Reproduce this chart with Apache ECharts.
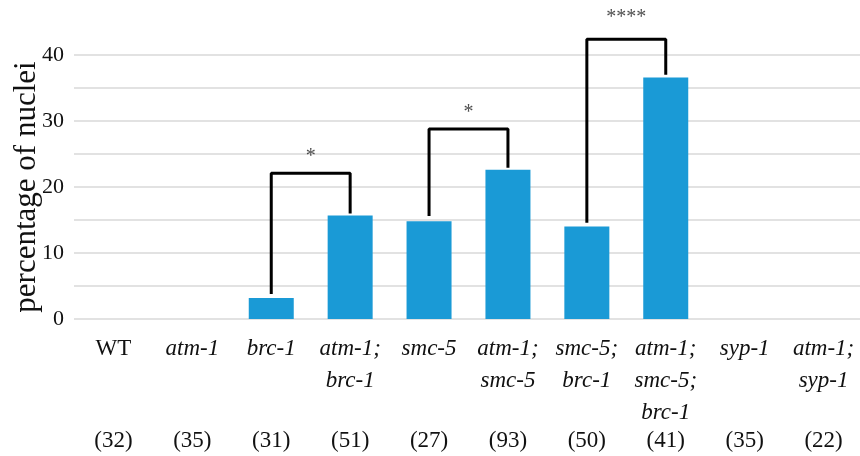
<!DOCTYPE html>
<html>
<head>
<meta charset="utf-8">
<script src="https://cdn.jsdelivr.net/npm/echarts@6/dist/echarts.min.js"></script>
<style>html,body{margin:0;padding:0;background:#fff}#c{width:860px;height:456px}</style>
</head>
<body>
<div id="c"></div>
<script>
// categories (italic gene names except WT)
const categories = ['WT', 'atm-1', 'brc-1', 'atm-1;\nbrc-1', 'smc-5', 'atm-1;\nsmc-5', 'smc-5;\nbrc-1', 'atm-1;\nsmc-5;\nbrc-1', 'syp-1', 'atm-1;\nsyp-1'];
const counts = ['(32)', '(35)', '(31)', '(51)', '(27)', '(93)', '(50)', '(41)', '(35)', '(22)'];
const values = [0, 0, 3.2, 15.7, 14.8, 22.6, 14.0, 36.6, 0, 0];
const yTicks = [0, 10, 20, 30, 40];
// significance brackets: [x, y] in category-index units
const bracket1 = [[2, 3.8], [2, 22.1], [3, 22.1], [3, 16.0]];
const bracket2 = [[4, 15.6], [4, 28.8], [5, 28.8], [5, 22.9]];
const bracket3 = [[6, 14.6], [6, 42.4], [7, 42.4], [7, 37.0]];
const stars = [[2.5, 24.6, '*'], [4.5, 31.2, '*'], [6.5, 45.6, '****']];

const FONT = "'Liberation Serif', 'Times New Roman', serif";
const chart = echarts.init(document.getElementById('c'));

function bracketSeries(d) {
  return {
    type: 'line', xAxisIndex: 2, data: d, symbol: 'none', clip: false,
    lineStyle: { color: '#000', width: 3 }, silent: true, z: 5, animation: false
  };
}

chart.setOption({
  animation: false,
  grid: { left: 74, right: -3, top: 55, bottom: 137, containLabel: false, outerBoundsMode: 'none' },
  xAxis: [
    {
      type: 'category', data: categories,
      axisLine: { show: false }, axisTick: { show: false },
      axisLabel: {
        interval: 0, margin: 14,
        fontFamily: FONT, fontSize: 23, color: '#111',
        formatter: function (v) {
          const tag = v === 'WT' ? 'n' : 'i';
          return v.split('\n').map(l => '{' + tag + '|' + l + '}').join('\n');
        },
        rich: {
          n: { fontFamily: FONT, fontSize: 23, lineHeight: 32, color: '#111' },
          i: { fontFamily: FONT, fontSize: 23, lineHeight: 32, fontStyle: 'italic', color: '#111' }
        }
      }
    },
    {
      type: 'category', data: counts, position: 'bottom',
      axisLine: { show: false }, axisTick: { show: false },
      axisLabel: { interval: 0, margin: 106, fontFamily: FONT, fontSize: 23, lineHeight: 32, color: '#111' }
    },
    { type: 'value', min: -0.5, max: 9.5, show: false }
  ],
  yAxis: {
    type: 'value', min: 0, max: 40, interval: 5,
    name: 'percentage of nuclei', nameLocation: 'middle', nameRotate: 90, nameGap: 32,
    nameMoveOverlap: false,
    nameTextStyle: { fontFamily: FONT, fontSize: 31, color: '#111' },
    axisLine: { show: false }, axisTick: { show: false },
    axisLabel: {
      margin: 10, fontFamily: FONT, fontSize: 22, color: '#111',
      formatter: v => (yTicks.indexOf(v) >= 0 ? String(v) : '')
    },
    splitLine: { lineStyle: { color: '#d9d9d9', width: 1.5 } }
  },
  series: [
    {
      type: 'bar', data: values, barWidth: 45,
      itemStyle: { color: '#1a9ad6' }, z: 2
    },
    bracketSeries(bracket1),
    bracketSeries(bracket2),
    bracketSeries(bracket3),
    {
      type: 'scatter', xAxisIndex: 2, symbolSize: 0, clip: false, z: 6,
      data: stars.map(s => ({ value: [s[0], s[1]], label: { formatter: s[2] } })),
      label: { show: true, position: 'inside', fontFamily: FONT, fontSize: 20, color: '#222' }
    }
  ]
});
</script>
</body>
</html>
